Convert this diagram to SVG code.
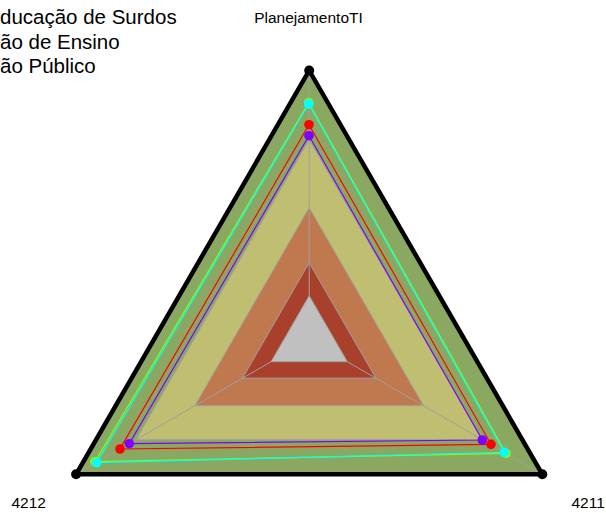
<svg xmlns="http://www.w3.org/2000/svg" width="606" height="513" viewBox="0 0 606 513">
<style>
text{font-family:"Liberation Sans",Arial,sans-serif;fill:#000}
.band{stroke:#a0a0a0;stroke-width:1}
.axis{stroke:#a0a0a0;stroke-width:1;fill:none}
.ser{fill:none;stroke-width:1.2}
</style>
<rect width="606" height="513" fill="#ffffff"/>
<g id="legend">
<text x="0" y="24" font-size="20.5">ducação de Surdos</text>
<text x="0" y="48.5" font-size="20.5">ão de Ensino</text>
<text x="0" y="73" font-size="20.5">ão Público</text>
</g>
<g id="bands">
<polygon class="band" points="309.2,70.5 542.3,474.3 76.1,474.3" fill="#8aa862"/>
<polygon class="band" points="309.2,139.7 482.4,439.7 136,439.7" fill="#c0be70"/>
<polygon class="band" points="309.2,207.7 423.5,405.7 194.9,405.7" fill="#c0784e"/>
<polygon class="band" points="309.2,262.7 375.9,378.2 242.5,378.2" fill="#a8402c"/>
<polygon class="band" points="309.2,295.7 347.3,361.7 271.1,361.7" fill="#c0c0c0"/>
</g>
<g id="axes">
<line class="axis" x1="309.2" y1="295.7" x2="309.2" y2="70.5"/>
<line class="axis" x1="347.3" y1="361.7" x2="542.3" y2="474.3"/>
<line class="axis" x1="271.1" y1="361.7" x2="76.1" y2="474.3"/>
</g>
<g id="outline">
<polygon points="309.2,70.5 542.3,474.3 76.1,474.3" fill="none" stroke="#000" stroke-width="4.5" stroke-linejoin="miter"/>
<circle cx="309.2" cy="70.5" r="5" fill="#000"/>
<circle cx="542.3" cy="474.3" r="5" fill="#000"/>
<circle cx="76.1" cy="474.3" r="5" fill="#000"/>
</g>
<g id="series">
<g id="s-lime" fill="#88ff00">
<polygon class="ser" stroke="#88ff00" points="308.7,102.7 506,453.3 95,461.7"/>
<circle cx="308.7" cy="102.7" r="4.8"/><circle cx="506" cy="453.3" r="4.8"/><circle cx="95" cy="461.7" r="4.8"/>
</g>
<g id="s-cyan" fill="#00ffff">
<polygon class="ser" stroke="#00ffff" points="308.7,104 504.3,452.3 96.7,462.7"/>
<circle cx="308.7" cy="104" r="4.8"/><circle cx="504.3" cy="452.3" r="4.8"/><circle cx="96.7" cy="462.7" r="4.8"/>
</g>
<g id="s-red" fill="#ff0000">
<polygon class="ser" stroke="#ff0000" points="309,124.7 491,444.3 120,449"/>
<circle cx="309" cy="124.7" r="4.8"/><circle cx="491" cy="444.3" r="4.8"/><circle cx="120" cy="449" r="4.8"/>
</g>
<g id="s-purple" fill="#8000ff">
<polygon class="ser" stroke="#8000ff" points="309,135.7 482.3,440 129.3,443.7"/>
<circle cx="309" cy="135.7" r="4.8"/><circle cx="482.3" cy="440" r="4.8"/><circle cx="129.3" cy="443.7" r="4.8"/>
</g>
</g>
<g id="labels">
<text x="308.5" y="22.7" font-size="15.5" text-anchor="middle">PlanejamentoTI</text>
<text x="11.5" y="508.3" font-size="15.5">4212</text>
<text x="571.5" y="508.3" font-size="15.5">4211</text>
</g>
</svg>
